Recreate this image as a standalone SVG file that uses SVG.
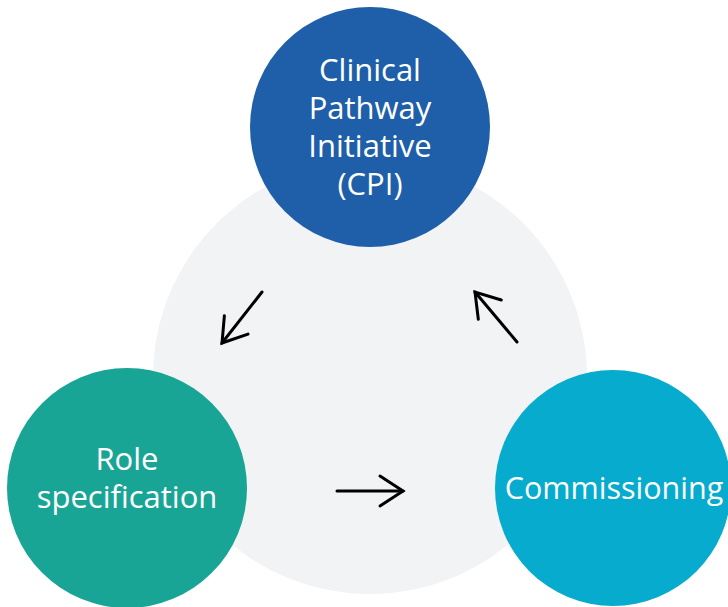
<svg xmlns="http://www.w3.org/2000/svg" width="728" height="607" viewBox="0 0 728 607">
<defs>
<style>
.lbl{font-family:"Open Sans","Noto Sans","Liberation Sans",sans-serif;font-size:31px;fill:#ffffff;text-anchor:middle}
.conn{stroke:#000;stroke-width:3;fill:none;stroke-linecap:round}
</style>
<marker id="ah" markerUnits="userSpaceOnUse" markerWidth="40" markerHeight="40" viewBox="-30 -20 40 40" refX="0" refY="0" orient="auto">
<path d="M-23,-15 L0,0 L-23,15" fill="none" stroke="#000" stroke-width="3" stroke-linecap="round" stroke-linejoin="miter"/>
</marker>
</defs>
<rect width="728" height="607" fill="#ffffff"/>
<circle id="bg" cx="370" cy="377" r="217" fill="#f2f3f5"/>
<g id="cpi">
<circle cx="370" cy="127" r="120" fill="#1f5fa9"/>
<text class="lbl" x="370" y="81">Clinical</text>
<text class="lbl" x="370" y="119">Pathway</text>
<text class="lbl" x="370" y="157">Initiative</text>
<text class="lbl" x="370" y="195">(CPI)</text>
</g>
<g id="role">
<circle cx="127" cy="488" r="120" fill="#19a596"/>
<text class="lbl" x="127" y="470">Role</text>
<text class="lbl" x="127" y="508">specification</text>
</g>
<g id="commissioning">
<circle cx="613" cy="488" r="118" fill="#07abce"/>
<text class="lbl" x="614" y="499" style="font-size:30.5px">Commissioning</text>
</g>
<g id="connectors">
<line class="conn" x1="262" y1="292" x2="222" y2="343" marker-end="url(#ah)"/>
<line class="conn" x1="517" y1="342" x2="475" y2="292" marker-end="url(#ah)"/>
<line class="conn" x1="337" y1="491" x2="403" y2="491" marker-end="url(#ah)"/>
</g>
</svg>
